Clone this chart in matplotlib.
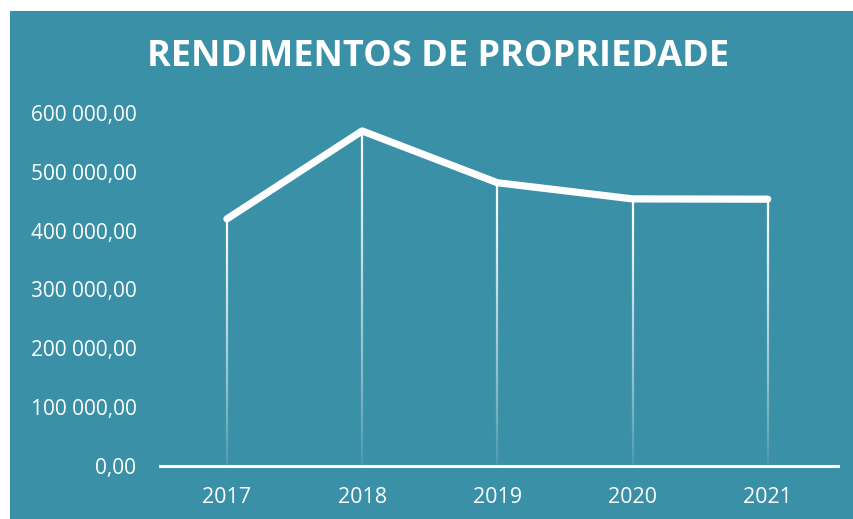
import numpy as np
import matplotlib
matplotlib.use("Agg")
import matplotlib.pyplot as plt
from matplotlib.patches import Rectangle
from matplotlib.collections import LineCollection
from matplotlib.ticker import FuncFormatter

# data
years = ["2017", "2018", "2019", "2020", "2021"]
rendimentos = [420000, 569500, 481500, 454000, 453500]
y_ticks = [0, 100000, 200000, 300000, 400000, 500000, 600000]

TEAL = "#3A90A7"

plt.rcParams["font.family"] = ["Open Sans", "DejaVu Sans"]

fig = plt.figure(figsize=(8.54, 5.19), dpi=100)
fig.patch.set_facecolor("white")
# teal card, with a small white margin on the left and top
card = Rectangle((10 / 854, 0), 1, 1 - 11 / 519, transform=fig.transFigure,
                 facecolor=TEAL, edgecolor="none", zorder=-10)
fig.add_artist(card)

ax = fig.add_axes([160 / 854, 1 - 466 / 519, 678 / 854, 353 / 519])
ax.set_facecolor("none")
ax.set_zorder(5)

x = np.arange(len(years))

# drop lines fading out toward the axis
n = 60
for xi, v in zip(x, rendimentos):
    ys = np.linspace(0, v, n + 1)
    segs = [[(xi, ys[i]), (xi, ys[i + 1])] for i in range(n)]
    alphas = np.linspace(0.05, 1, n) ** 0.8
    cols = [(1, 1, 1, a) for a in alphas]
    ax.add_collection(LineCollection(segs, colors=cols, linewidths=1.6, zorder=2))

ax.plot(x, rendimentos, color="white", lw=5.2, solid_capstyle="round",
        solid_joinstyle="round", zorder=3)

ax.set_xlim(-0.495, 4.52)
ax.set_ylim(0, 600000)
ax.set_xticks(x)
ax.set_xticklabels(years)
ax.set_yticks(y_ticks)
ax.yaxis.set_major_formatter(FuncFormatter(lambda v, p: f"{v:,.2f}".replace(",", " ").replace(".", ",")))

for s in ["top", "right", "left"]:
    ax.spines[s].set_visible(False)
ax.spines["bottom"].set_color("white")
ax.spines["bottom"].set_linewidth(2.2)
ax.spines["bottom"].set_zorder(4)

ax.tick_params(axis="both", length=0, colors="white", labelsize=15)
ax.tick_params(axis="y", pad=17)
ax.tick_params(axis="x", pad=15)
for lab in ax.get_xticklabels():
    lab.set_fontsize(15.5)

fig.text(438 / 854, 1 - 57 / 519, "RENDIMENTOS DE PROPRIEDADE", color="white",
         fontsize=26, fontweight="bold", ha="center", va="center")

fig.savefig("out.png", dpi=100, facecolor=fig.get_facecolor())
